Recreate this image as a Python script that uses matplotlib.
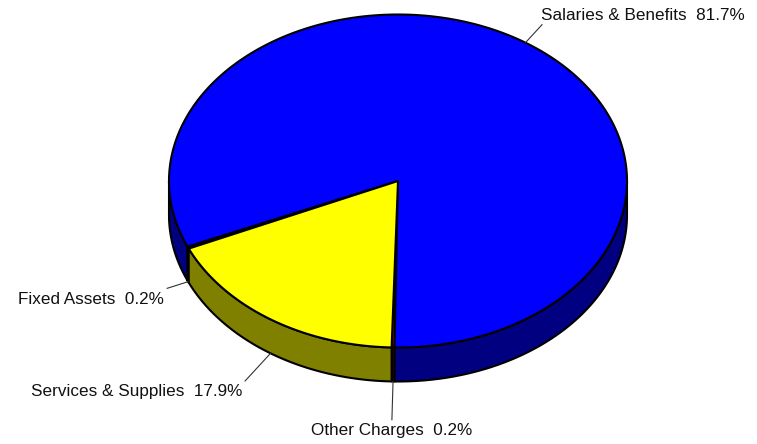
import numpy as np
import matplotlib.pyplot as plt
from matplotlib.patches import Polygon

plt.rcParams['font.family'] = ['Liberation Sans', 'DejaVu Sans']

# budget split, counter-clockwise from the start angle
labels = ['Other Charges', 'Salaries & Benefits', 'Fixed Assets', 'Services & Supplies']
shares = [0.2, 81.7, 0.2, 17.9]
top_colors = ['#FF0000', '#0000FF', '#00FFFF', '#FFFF00']
side_colors = ['#800000', '#000080', '#008080', '#808000']

# ellipse geometry in pixel units
cx, cy = 398, 181
rx, ry = 229, 166.5
depth = 34
start = 268.4
leader_len = [1.23, 1.13, 1.10, 1.20]


def pt(t, f=1.0, dy=0.0):
    r = np.radians(t)
    return cx + f * rx * np.cos(r), cy - f * ry * np.sin(r) + dy


def front_spans(a0, a1):
    spans = []
    for k in range(-1, 3):
        lo, hi = 180 + 360 * k, 360 + 360 * k
        s, e = max(a0, lo), min(a1, hi)
        if e > s:
            spans.append((s, e))
    return spans


fig = plt.figure(figsize=(7.57, 4.44), dpi=100)
ax = fig.add_axes([0, 0, 1, 1])
ax.set_xlim(0, 757)
ax.set_ylim(444, 0)
ax.axis('off')

angles = start + np.concatenate([[0], np.cumsum(shares)]) * 3.6

# outer walls first
for i in range(len(shares)):
    for s, e in front_spans(angles[i], angles[i + 1]):
        t = np.linspace(s, e, max(int((e - s) * 2), 2))
        xs, ys = pt(t)
        verts = np.column_stack([np.r_[xs, xs[::-1]], np.r_[ys, ys[::-1] + depth]])
        ax.add_patch(Polygon(verts, closed=True, facecolor=side_colors[i],
                             edgecolor='black', lw=1.5, joinstyle='round', zorder=1))

# top faces
for i in range(len(shares)):
    a0, a1 = angles[i], angles[i + 1]
    t = np.linspace(a0, a1, max(int((a1 - a0) * 2), 2))
    xs, ys = pt(t)
    verts = np.column_stack([np.r_[cx, xs], np.r_[cy, ys]])
    ax.add_patch(Polygon(verts, closed=True, facecolor=top_colors[i],
                         edgecolor='black', lw=1.5, joinstyle='round', zorder=2))

# labels with leader lines
for i, (name, val) in enumerate(zip(labels, shares)):
    mid = (angles[i] + angles[i + 1]) / 2
    front = np.sin(np.radians(mid)) < 0
    dy = depth if front else 0
    x0, y0 = pt(mid, 1.0, dy)
    x1, y1 = pt(mid, leader_len[i], dy)
    ax.plot([x0, x1], [y0, y1], color='#333333', lw=0.8, zorder=3)
    c = np.cos(np.radians(mid))
    if abs(c) < 0.1:
        ha, tx = 'center', x1
    elif c > 0:
        ha, tx = 'left', x1 - 1
    else:
        ha, tx = 'right', x1 - 3
    ty = y1 + 11 if front else y1 - 9
    ax.text(tx, ty, f'{name}  {val:.1f}%', ha=ha, va='center',
            fontsize=12.3, color='#111111', zorder=4)

fig.savefig('out.png', dpi=100)
